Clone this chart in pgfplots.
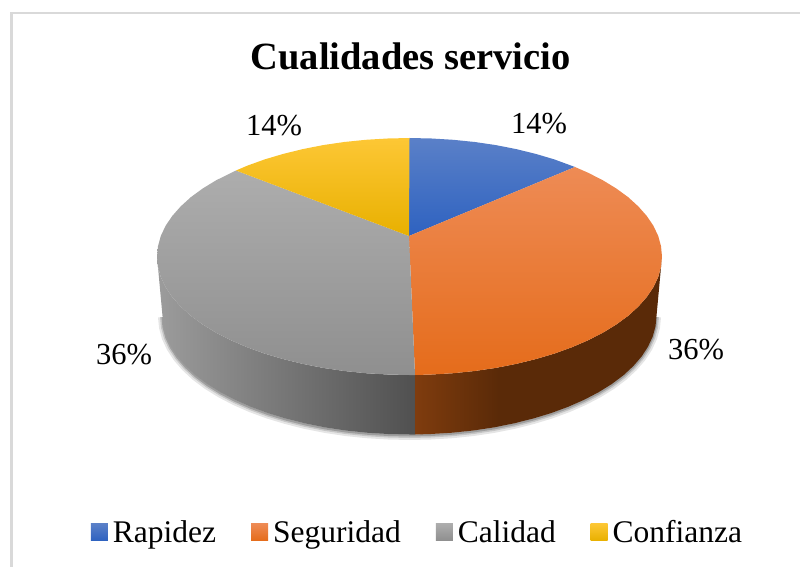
\documentclass[border=0pt]{standalone}
\usepackage{fontspec}
\setmainfont{Liberation Serif}
\usepackage{pgfplots}
\pgfplotsset{compat=1.18}

\definecolor{frameg}{HTML}{D9D9D9}
\definecolor{blueT}{HTML}{5A80C8}
\definecolor{blueB}{HTML}{2E62C0}
\definecolor{orgT}{HTML}{EE8B55}
\definecolor{orgM}{HTML}{F27A2B}
\definecolor{orgB}{HTML}{E56C1B}
\definecolor{gryT}{HTML}{ADADAD}
\definecolor{gryB}{HTML}{8F8F8F}
\definecolor{golT}{HTML}{FDC735}
\definecolor{golM}{HTML}{FBBF08}
\definecolor{golB}{HTML}{E8B000}
\definecolor{sideGL}{HTML}{9C9C9C}
\definecolor{sideGR}{HTML}{505050}
\definecolor{sideOL}{HTML}{7F3C0E}
\definecolor{sideOR}{HTML}{5A2A08}
\pgfdeclarehorizontalshading{sideorange}{100bp}{color(0bp)=(sideOL); color(25bp)=(sideOL); color(42bp)=(sideOR); color(100bp)=(sideOR)}

% outer edge of the pie's underside, in image pixels
\pgfplotstableread{
x y
162.5 316
163.5 326.3
166.3 336.6
171 346.7
177.4 356.5
185.7 366.1
195.6 375.3
207.2 384
220.4 392.2
234.9 399.8
250.8 406.8
267.9 413.1
286 418.6
305.1 423.4
325 427.4
345.6 430.5
366.7 432.7
388 434
409.5 434.5
431 434
452.3 432.7
473.4 430.5
494 427.4
513.9 423.4
533 418.6
551.1 413.1
568.2 406.8
584.1 399.8
598.6 392.2
611.8 384
623.4 375.3
633.3 366.1
641.6 356.5
648 346.7
652.7 336.6
655.5 326.3
656.5 316
}\rimedge

\begin{document}
\begin{tikzpicture}
\begin{axis}[
    name=pie,
    scale only axis,
    width=800pt,
    height=567pt,
    xmin=0, xmax=800,
    ymin=0, ymax=567,
    y dir=reverse,
    axis lines=none,
    no markers,
    title={Cualidades servicio},
    title style={at={(axis cs:410.5,62)}, anchor=center, inner sep=0pt,
        font=\fontsize{38.5}{40}\selectfont\bfseries},
    legend columns=4,
    legend cell align=left,
    legend style={at={(axis cs:417.5,532)}, anchor=center, draw=none, fill=none,
        font=\fontsize{31.5}{34}\selectfont, column sep=0pt, inner sep=0pt, outer sep=0pt,
        /tikz/every even column/.append style={column sep=33pt}},
    legend image code/.code={\path[#1,draw=none] (0pt,-8.5pt) rectangle (17pt,8.5pt);
        \path (20pt,0pt);},
]
% chart frame
\addplot[frameg, line width=2.5pt, forget plot] coordinates {(11.5,567) (11.5,13) (800,13)};

% soft shadow under the rim
\addplot[black, opacity=0.10, line width=9pt, yshift=-1pt, forget plot] table {\rimedge};
\addplot[black, opacity=0.14, line width=5pt, yshift=-1pt, forget plot] table {\rimedge};
\addplot[black, opacity=0.20, line width=2pt, yshift=-1pt, forget plot] table {\rimedge};

% side walls
\addplot[draw=none, left color=sideGL, right color=sideGR, forget plot] coordinates {
(157,256.5) (158,266.8) (160.8,277.1) (165.6,287.2) (172.2,297) (180.7,306.6) (190.8,315.8)
(202.7,324.5) (216.1,332.7) (231,340.3) (247.2,347.3) (264.7,353.6) (283.2,359.1) (302.8,363.9)
(323.1,367.9) (344.2,371) (365.7,373.2) (387.5,374.5) (409.5,375) (415,375)
(415,434.5) (409.5,434.5) (388,434) (366.7,432.7) (345.6,430.5) (325,427.4) (305.1,423.4)
(286,418.6) (267.9,413.1) (250.8,406.8) (234.9,399.8) (220.4,392.2) (207.2,384) (195.6,375.3)
(185.7,366.1) (177.4,356.5) (171,346.7) (166.3,336.6) (163.5,326.3) (162.5,316) (157,256.5)
};
\addplot[draw=none, shading=sideorange, forget plot] coordinates {
(415,375) (431.5,374.5) (453.3,373.2) (474.8,371) (495.9,367.9) (516.2,363.9) (535.8,359.1)
(554.3,353.6) (571.8,347.3) (588,340.3) (602.9,332.7) (616.3,324.5) (628.2,315.8) (638.3,306.6)
(646.8,297) (653.4,287.2) (658.2,277.1) (661,266.8) (662,256.5)
(656.5,316) (655.5,326.3) (652.7,336.6) (648,346.7) (641.6,356.5) (633.3,366.1) (623.4,375.3)
(611.8,384) (598.6,392.2) (584.1,399.8) (568.2,406.8) (551.1,413.1) (533,418.6) (513.9,423.4)
(494,427.4) (473.4,430.5) (452.3,432.7) (431,434) (415,434.5) (415,375)
};

% top face
\addplot[draw=none, top color=blueT, bottom color=blueB] coordinates {
(409,236) (409.5,138) (431.5,138.5) (453.3,139.8) (474.8,142) (495.9,145.1) (516.2,149.1)
(535.8,153.9) (554.3,159.4) (575,167) (409,236)
};
\addlegendentry{Rapidez}
\addplot[draw=none, top color=orgT, middle color=orgM, bottom color=orgB] coordinates {
(409,236) (575,167) (588,172.7) (602.9,180.3) (616.3,188.5) (628.2,197.2) (638.3,206.4)
(646.8,216) (653.4,225.8) (658.2,235.9) (661,246.2) (662,256.5) (661,266.8) (658.2,277.1)
(653.4,287.2) (646.8,297) (638.3,306.6) (628.2,315.8) (616.3,324.5) (602.9,332.7) (588,340.3)
(571.8,347.3) (554.3,353.6) (535.8,359.1) (516.2,363.9) (495.9,367.9) (474.8,371) (453.3,373.2)
(431.5,374.5) (415,375) (409,236)
};
\addlegendentry{Seguridad}
\addplot[draw=none, top color=gryT, bottom color=gryB] coordinates {
(409,236) (415,375) (409.5,375) (387.5,374.5) (365.7,373.2) (344.2,371) (323.1,367.9)
(302.8,363.9) (283.2,359.1) (264.7,353.6) (247.2,347.3) (231,340.3) (216.1,332.7) (202.7,324.5)
(190.8,315.8) (180.7,306.6) (172.2,297) (165.6,287.2) (160.8,277.1) (158,266.8) (157,256.5)
(158,246.2) (160.8,235.9) (165.6,225.8) (172.2,216) (180.7,206.4) (190.8,197.2) (202.7,188.5)
(216.1,180.3) (236,170.5) (409,236)
};
\addlegendentry{Calidad}
\addplot[draw=none, top color=golT, middle color=golM, bottom color=golB] coordinates {
(409,236) (236,170.5) (247.2,165.7) (264.7,159.4) (283.2,153.9) (302.8,149.1) (323.1,145.1)
(344.2,142) (365.7,139.8) (387.5,138.5) (409.5,138) (409,236)
};
\addlegendentry{Confianza}

% data labels
\node[font=\fontsize{30.5}{34}\selectfont] at (axis cs:539,124) {14\%};
\node[font=\fontsize{30.5}{34}\selectfont] at (axis cs:274,126) {14\%};
\node[font=\fontsize{30.5}{34}\selectfont] at (axis cs:696,350) {36\%};
\node[font=\fontsize{30.5}{34}\selectfont] at (axis cs:124,355) {36\%};
\end{axis}
\pgfresetboundingbox
\path (pie.south west) rectangle (pie.north east);
\end{tikzpicture}
\end{document}
